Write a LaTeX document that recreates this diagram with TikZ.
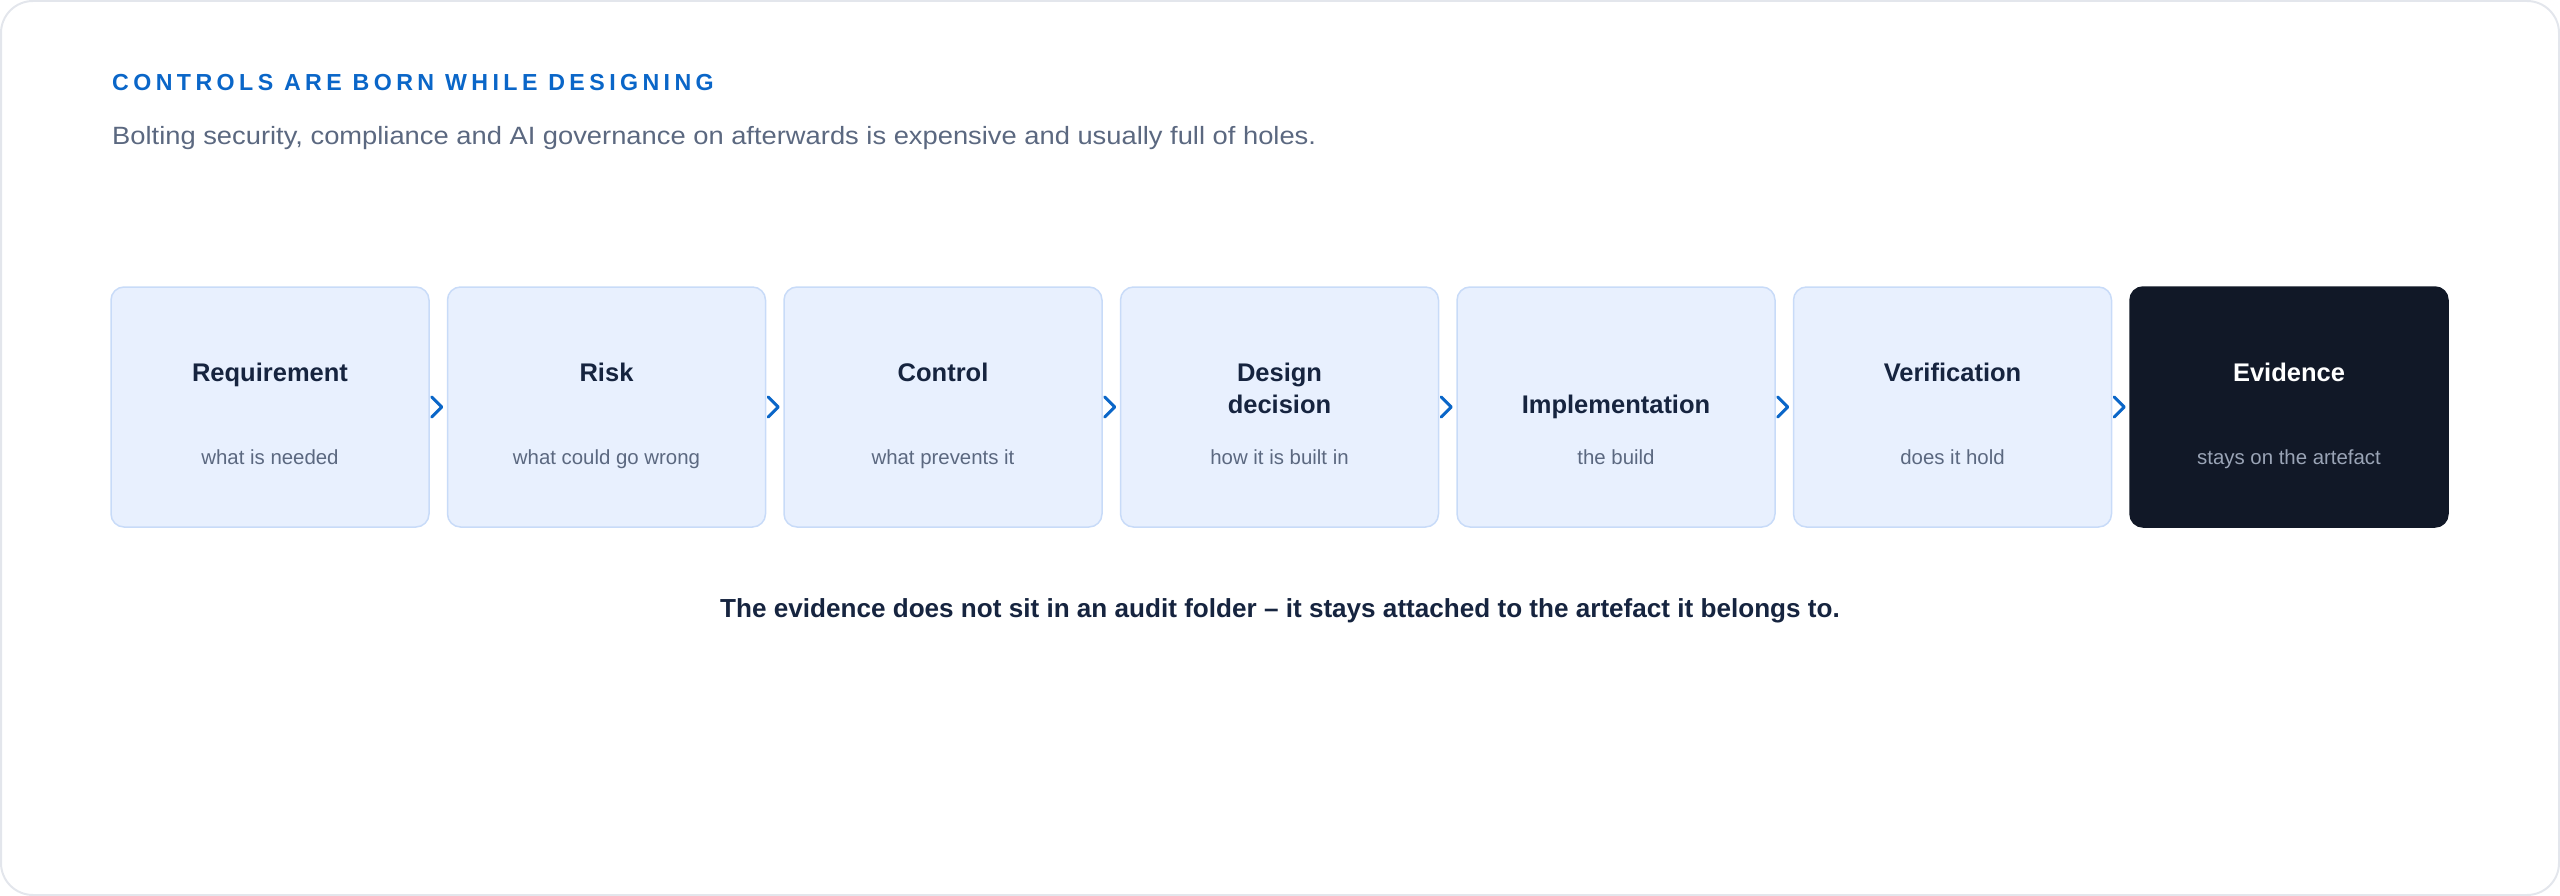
\documentclass[tikz,border=0pt]{standalone}
\usepackage{fontspec}
\setmainfont{Liberation Sans}
\newfontfamily\headfont[LetterSpace=19]{Liberation Sans}
\newfontfamily\leadfont[FakeStretch=1.093]{Liberation Sans}
\usetikzlibrary{positioning}

\definecolor{frameline}{HTML}{E3E6EC}
\definecolor{accent}{HTML}{0A66C8}
\definecolor{slate}{HTML}{5B6880}
\definecolor{navy}{HTML}{16243F}
\definecolor{stagefill}{HTML}{E8F0FE}
\definecolor{stageline}{HTML}{C8DBF8}
\definecolor{ink}{HTML}{111827}
\definecolor{mist}{HTML}{9AA4B6}

\begin{document}
\begin{tikzpicture}[
x=1pt, y=-1pt,
node distance={17pt},
stage/.style = {draw=stageline, fill=stagefill, line width=1.5pt, rounded corners=13pt,
  minimum width=318pt, minimum height=240pt, inner sep=0pt},
final/.style = {stage, draw=ink, fill=ink},
stagename/.style = {anchor=base, align=center, text=navy,
  font=\bfseries\fontsize{25.5}{32}\selectfont},
stagenote/.style = {anchor=base, text=slate, font=\fontsize{20.4}{24}\selectfont},
chev/.style = {draw=accent, line width=3pt, line cap=round, line join=round} ]
\useasboundingbox (0,0) rectangle (2560,896);
\draw[frameline, line width=2pt, rounded corners=32pt] (1,1) rectangle (2559,895);

% heading
\node[anchor=base west, inner sep=0pt, text=accent,
  font=\headfont\bfseries\fontsize{23.2}{28}\selectfont]
  (head) at (112,91) {CONTROLS ARE BORN WHILE DESIGNING};
\node[anchor=base west, inner sep=0pt, text=slate, font=\leadfont\fontsize{25}{30}\selectfont]
  (lead) at (112,145) {Bolting security, compliance and AI governance on afterwards is expensive and usually full of holes.};

% the chain
\node[stage] (req) at (270,407) {};
\node[stage] (risk) [right=of req] {};
\node[stage] (ctrl) [right=of risk] {};
\node[stage] (des) [right=of ctrl] {};
\node[stage] (impl) [right=of des] {};
\node[stage] (ver) [right=of impl] {};
\node[final] (evi) [right=of ver] {};

\node[stagename] at ([yshift=26pt]req.center) {Requirement};
\node[stagename] at ([yshift=26pt]risk.center) {Risk};
\node[stagename] at ([yshift=26pt]ctrl.center) {Control};
\node[stagename] at ([yshift=-6pt]des.center) {Design\\decision};
\node[stagename] at ([yshift=-6pt]impl.center) {Implementation};
\node[stagename] at ([yshift=26pt]ver.center) {Verification};
\node[stagename, text=white] at ([yshift=26pt]evi.center) {Evidence};

\node[stagenote] at ([yshift=-57pt]req.center) {what is needed};
\node[stagenote] at ([yshift=-57pt]risk.center) {what could go wrong};
\node[stagenote] at ([yshift=-57pt]ctrl.center) {what prevents it};
\node[stagenote] at ([yshift=-57pt]des.center) {how it is built in};
\node[stagenote] at ([yshift=-57pt]impl.center) {the build};
\node[stagenote] at ([yshift=-57pt]ver.center) {does it hold};
\node[stagenote, text=mist] at ([yshift=-57pt]evi.center) {stays on the artefact};

\draw[chev] ([xshift=2pt,yshift=10pt]req.east) -- ([xshift=12pt]req.east) -- ([xshift=2pt,yshift=-10pt]req.east);
\draw[chev] ([xshift=2pt,yshift=10pt]risk.east) -- ([xshift=12pt]risk.east) -- ([xshift=2pt,yshift=-10pt]risk.east);
\draw[chev] ([xshift=2pt,yshift=10pt]ctrl.east) -- ([xshift=12pt]ctrl.east) -- ([xshift=2pt,yshift=-10pt]ctrl.east);
\draw[chev] ([xshift=2pt,yshift=10pt]des.east) -- ([xshift=12pt]des.east) -- ([xshift=2pt,yshift=-10pt]des.east);
\draw[chev] ([xshift=2pt,yshift=10pt]impl.east) -- ([xshift=12pt]impl.east) -- ([xshift=2pt,yshift=-10pt]impl.east);
\draw[chev] ([xshift=2pt,yshift=10pt]ver.east) -- ([xshift=12pt]ver.east) -- ([xshift=2pt,yshift=-10pt]ver.east);

% closing line
\node[anchor=base, text=navy, font=\bfseries\fontsize{26.1}{30}\selectfont]
  (moral) at (1280,617) {The evidence does not sit in an audit folder – it stays attached to the artefact it belongs to.};
\end{tikzpicture}
\end{document}
